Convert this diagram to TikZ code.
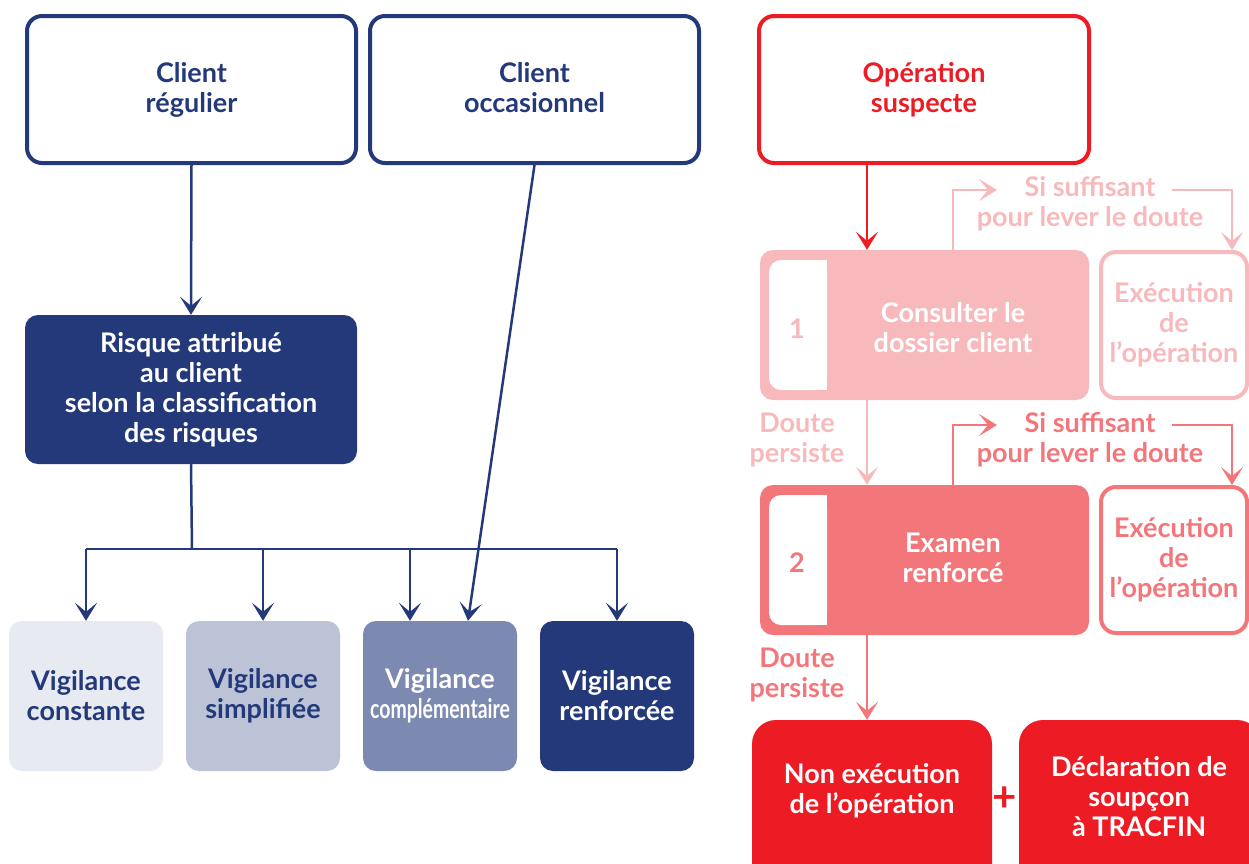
\documentclass[tikz,border=0pt]{standalone}
\usepackage{graphicx}
\usepackage{fontspec}
\setmainfont{Lato}
\usetikzlibrary{arrows.meta}
\definecolor{navy}{RGB}{35,57,122}
\definecolor{alarm}{RGB}{237,28,36}
\definecolor{pinklight}{RGB}{248,185,188}
\definecolor{pinkmid}{RGB}{243,118,122}
\definecolor{vigA}{RGB}{232,234,242}
\definecolor{vigB}{RGB}{188,195,215}
\definecolor{vigC}{RGB}{124,137,176}
\tikzset{txt/.style = {align = center, inner sep = 0pt, font = \fontsize{27}{30}\selectfont\bfseries}}
\tikzset{frame/.style = {txt, draw, fill = white, line width = 4pt, rounded corners = 15pt}}
\tikzset{block/.style = {txt, rounded corners = 13pt}}
\tikzset{arr/.style = {line width = 2.5pt, -{Stealth[length = 18pt, width = 22pt, inset = 9pt]}}}

\begin{document}
\begin{tikzpicture}[x = 1pt, y = -1pt]
    \useasboundingbox (0, 0) rectangle (1249, 863);
    \clip (0, 0) rectangle (1249, 863);
    \node [frame, draw = navy, text = navy, minimum width = 329pt, minimum height = 147pt] (reg) at (191.5, 89.5) {Client\\régulier};
    \node [frame, draw = navy, text = navy, minimum width = 329pt, minimum height = 147pt] (occ) at (534.5, 89.5) {\raisebox{4pt}{Client}\\\raisebox{4pt}{occasionnel}};
    \node [block, fill = navy, text = white, minimum width = 332pt, minimum height = 149pt] (risk) at (191, 389.5) {Risque attribué\\au client\\selon la classification\\des risques};
    \node [block, fill = vigA, text = navy, minimum width = 154pt, minimum height = 150pt] (vconst) at (86, 696) {Vigilance\\constante};
    \node [block, fill = vigB, text = navy, minimum width = 154pt, minimum height = 150pt] (vsimp) at (263, 696) {Vigilance\\simplifiée};
    \node [block, fill = vigC, text = white, minimum width = 154pt, minimum height = 150pt] (vcomp) at (440, 696) {Vigilance\\\scalebox{0.72}[1]{complémentaire}};
    \node [block, fill = navy, text = white, minimum width = 154pt, minimum height = 150pt] (vrenf) at (617, 696) {Vigilance\\renforcée};
    \coordinate (fork) at (192, 549);
    \draw [navy, line width = 2.5pt] (risk.south) -- (fork);
    \draw [navy, line width = 2.5pt] (vconst.north |- fork) -- (vrenf.north |- fork);
    \draw [arr, navy] (reg.south) -- (risk.north);
    \foreach \v in {vconst, vsimp, vrenf}
        \draw [arr, navy] (\v.north |- fork) -- (\v.north);
    \draw [arr, navy] ([xshift = -30pt]vcomp.north |- fork) -- ([xshift = -30pt]vcomp.north);
    \draw [arr, navy] (occ.south) -- ([xshift = 28pt]vcomp.north);

    \node [frame, draw = alarm, text = alarm, minimum width = 330pt, minimum height = 147pt] (susp) at (924, 89.5) {\raisebox{-3pt}{Opération}\\\raisebox{-3pt}{suspecte}};
    \node [block, fill = pinklight, minimum width = 329pt, minimum height = 150pt] (step1) at (924.5, 325) {};
    \fill [white, rounded corners = 12pt] (769, 260) rectangle (827, 390);
    \fill [white] (800, 260) rectangle (827, 390);
    \node [txt, text = pinklight] (num1) at (797, 329) {1};
    \node [txt, text = white] (txt1) at (953, 328) {Consulter le\\dossier client};
    \node [frame, draw = pinklight, text = pinklight, minimum width = 146pt, minimum height = 146pt] (exec1) at (1174, 325) {Exécution\\de\\l’opération};
    \node [block, fill = pinkmid, minimum width = 329pt, minimum height = 150pt] (step2) at (924.5, 560) {};
    \fill [white, rounded corners = 12pt] (769, 495) rectangle (827, 625);
    \fill [white] (800, 495) rectangle (827, 625);
    \node [txt, text = pinkmid] (num2) at (797, 563) {2};
    \node [txt, text = white] (txt2) at (953, 558) {Examen\\renforcé};
    \node [frame, draw = pinkmid, text = pinkmid, minimum width = 146pt, minimum height = 146pt] (exec2) at (1174, 560) {Exécution\\de\\l’opération};
    \node [block, fill = alarm, rounded corners = 24pt, minimum width = 240pt, minimum height = 180pt] (nonexec) at (872, 810) {};
    \node [txt, text = white] (nonexectxt) at (872, 791) {Non exécution\\de l’opération};
    \node [block, fill = alarm, rounded corners = 24pt, minimum width = 242pt, minimum height = 180pt] (decl) at (1140, 810) {};
    \node [txt, text = white] (decltxt) at (1139, 797) {Déclaration de\\soupçon\\à TRACFIN};
    \node [txt, text = alarm, font = \fontsize{42}{42}\selectfont\bfseries] (plus) at (1005, 799) {+};

    \node [txt, text = pinklight] (suff1) at (1090, 204) {Si suffisant\\pour lever le doute};
    \node [txt, text = pinkmid] (suff2) at (1090, 440) {Si suffisant\\pour lever le doute};
    \node [txt, text = pinklight] (doubt1) at (797, 440) {Doute\\persiste};
    \node [txt, text = pinkmid] (doubt2) at (797, 675) {Doute\\persiste};
    \coordinate (axis) at (867, 0);
    \coordinate (up1) at (953, 190);
    \coordinate (s1a) at (997, 190);
    \coordinate (s1b) at (1172, 190);
    \coordinate (up2) at (953, 425);
    \coordinate (s2a) at (997, 425);
    \coordinate (s2b) at (1172, 425);
    \draw [arr, alarm] (susp.south -| axis) -- (step1.north -| axis);
    \draw [arr, pinklight] (step1.south -| axis) -- (step2.north -| axis);
    \draw [arr, pinkmid] (step2.south -| axis) -- (nonexec.north -| axis);
    \draw [arr, pinklight] (step1.north -| up1) |- (s1a);
    \draw [arr, pinklight] (s1b) -| ([xshift = 58pt]exec1.north);
    \draw [arr, pinkmid] (step2.north -| up2) |- (s2a);
    \draw [arr, pinkmid] (s2b) -| ([xshift = 58pt]exec2.north);
\end{tikzpicture}
\end{document}
